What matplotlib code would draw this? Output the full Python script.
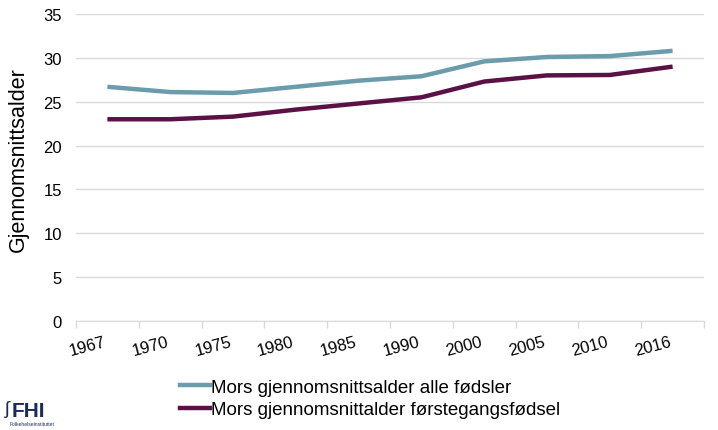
import matplotlib
matplotlib.use("Agg")
import matplotlib.pyplot as plt
from matplotlib.lines import Line2D

years = ["1967", "1970", "1975", "1980", "1985", "1990", "2000", "2005", "2010", "2016"]
alle = [26.7, 26.1, 26.0, 26.7, 27.4, 27.9, 29.6, 30.1, 30.2, 30.8]
forste = [23.0, 23.0, 23.3, 24.1, 24.8, 25.5, 27.3, 28.0, 28.05, 29.0]
labels = ["Mors gjennomsnittsalder alle fødsler", "Mors gjennomsnittalder førstegangsfødsel"]
colors = ["#6b9cab", "#5a1246"]

plt.rcParams['font.family'] = ['Liberation Sans', 'DejaVu Sans']

fig = plt.figure(figsize=(7.18, 4.31), dpi=100)
ax = fig.add_axes([76/718, 1-322/431, (704-76)/718, (322-15)/431])

x = list(range(len(years)))
ax.plot(x, alle, color=colors[0], lw=3.2, solid_capstyle='butt')
ax.plot(x, forste, color=colors[1], lw=3.2, solid_capstyle='butt')

ax.set_xlim(-0.5, len(years)-0.5)
ax.set_ylim(0, 35)
ax.set_yticks(range(0, 36, 5))
ax.yaxis.grid(True, color="#d9d9d9", lw=1)
ax.set_axisbelow(True)
for s in ["top", "right", "left"]:
    ax.spines[s].set_visible(False)
ax.spines["bottom"].set_color("#d9d9d9")
ax.tick_params(axis='y', length=0, labelsize=12, pad=10)
ax.set_xticks(x)
ax.set_xticklabels(years, rotation=15, ha='right', va='top', fontsize=12)
ax.tick_params(axis='x', which='major', length=0, pad=9)
ax.set_xticks([i - 0.5 for i in range(len(years)+1)], minor=True)
ax.tick_params(axis='x', which='minor', length=5, color="#d9d9d9", width=1)

fig.text(18/718, 1-160/431, "Gjennomsnittsalder", fontsize=15.5, rotation=90,
         ha='center', va='center')

handles = [Line2D([0], [0], color=c, lw=3.2) for c in colors]
fig.legend(handles, labels, loc='upper left', bbox_to_anchor=(172/718, 1-372/431),
           frameon=False, fontsize=13.5, handlelength=1.6, handletextpad=0.1,
           labelspacing=0.3, borderaxespad=0)

# FHI logo as text
fig.text(12/718, 1-412/431, "FHI", fontsize=15, fontweight='bold', color="#1c2b5a", va='center', ha='left')
fig.text(10/718, 1-425/431, "Folkehelseinstituttet", fontsize=3.6, color="#1c2b5a", va='center', ha='left')
fig.text(4/718, 1-410/431, "ʃ", fontsize=14, color="#1c2b5a", va='center', ha='left')

fig.savefig("out.png", dpi=100)
